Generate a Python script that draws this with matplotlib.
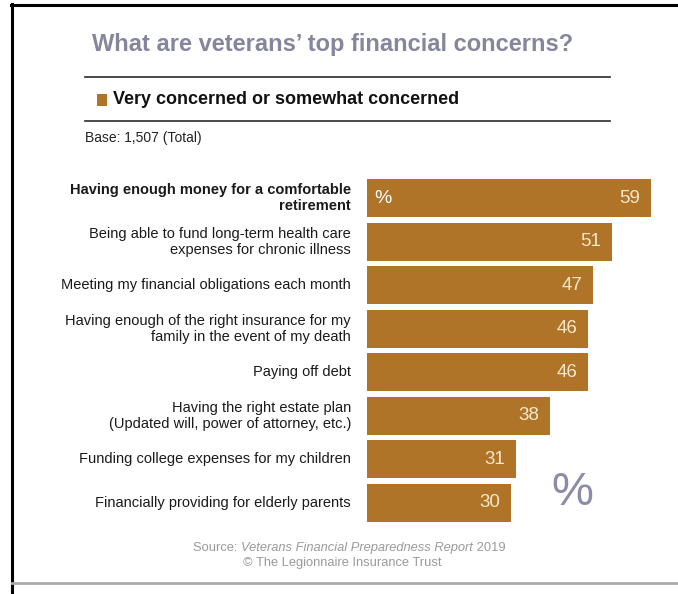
import matplotlib
matplotlib.use("Agg")
import matplotlib.pyplot as plt
from matplotlib.lines import Line2D
from matplotlib.patches import Rectangle

plt.rcParams['font.family'] = ['Liberation Sans', 'DejaVu Sans']

categories = [
    "Having enough money for a comfortable\nretirement",
    "Being able to fund long-term health care\nexpenses for chronic illness",
    "Meeting my financial obligations each month",
    "Having enough of the right insurance for my\nfamily in the event of my death",
    "Paying off debt",
    "Having the right estate plan\n(Updated will, power of attorney, etc.)",
    "Funding college expenses for my children",
    "Financially providing for elderly parents",
]
values = [59, 51, 47, 46, 46, 38, 31, 30]
title = "What are veterans\u2019 top financial concerns?"
legend_label = "Very concerned or somewhat concerned"
base_note = "Base: 1,507 (Total)"

W, H = 678, 594
BAR = "#B07428"
fig = plt.figure(figsize=(W / 100, H / 100), dpi=100)
fig.patch.set_facecolor("white")

def fx(px):
    return px / W

def fy(py):
    return 1 - py / H

# frame lines
fig.add_artist(Line2D([fx(11.5), fx(11.5)], [fy(4), fy(594)], color="black", lw=2.2, transform=fig.transFigure))
fig.add_artist(Line2D([fx(11), fx(678)], [fy(4.5), fy(4.5)], color="black", lw=2.2, transform=fig.transFigure))
fig.add_artist(Line2D([fx(12), fx(678)], [fy(583), fy(583)], color="#aaaaaa", lw=2.0, transform=fig.transFigure))

# title
fig.text(fx(92), fy(44), title, fontsize=17, fontweight="bold", color="#85859c", ha="left", va="center")

# header lines
for py in (77, 121):
    fig.add_artist(Line2D([fx(85), fx(610)], [fy(py), fy(py)], color="#2a2a2a", lw=1.2, transform=fig.transFigure))

# legend
fig.add_artist(Rectangle((fx(97), fy(106)), fx(10), 12 / H, facecolor=BAR, edgecolor="none", transform=fig.transFigure))
fig.text(fx(113), fy(100), legend_label, fontsize=13, fontweight="bold", color="#111111", ha="left", va="center")
fig.text(fx(85), fy(138), base_note, fontsize=10, color="#222222", ha="left", va="center")

# bar axes
left_px, scale = 367, 284 / 59
xmax = 60
top_px, pitch = 176.5, 43.5
n = len(values)
ax = fig.add_axes([fx(left_px), fy(top_px + pitch * n), xmax * scale / W, pitch * n / H])
ypos = list(range(n))
ax.barh(ypos, values, height=0.885, color=BAR, edgecolor="none")
ax.set_xlim(0, xmax)
ax.set_ylim(n - 0.5, -0.5)
ax.axis("off")

for i, (v, lab) in enumerate(zip(values, categories)):
    ax.text(v - 2.3, i, str(v), ha="right", va="center", fontsize=13.5, color="#f7e8cc")
    ax.text(-3.3, i, lab, ha="right", va="center", fontsize=10.5,
            fontweight="bold" if i == 0 else "normal", color="#1a1a1a",
            linespacing=1.2, multialignment="right")

ax.text(1.6, 0, "%", ha="left", va="center", fontsize=14, color="white")
ax.text(42.6, 6.78, "%", ha="center", va="center", fontsize=34, color="#8c8ca8")

# source
ys = 548
t1 = fig.text(fx(193), fy(ys), "Source: ", fontsize=9.3, color="#9a9a9a", ha="left", va="center")
t2 = fig.text(0, 0, "Veterans Financial Preparedness Report", fontsize=9.3, style="italic", color="#9a9a9a")
t3 = fig.text(0, 0, " 2019", fontsize=9.3, color="#9a9a9a")
fig.canvas.draw()
r = fig.canvas.get_renderer()
bb = t1.get_window_extent(r)
t2.set_position((bb.x1 / W, fy(ys)))
t2.set_va("center")
bb2 = t2.get_window_extent(r)
t3.set_position((bb2.x1 / W, fy(ys)))
t3.set_va("center")
fig.text(fx(342), fy(563), "\u00a9 The Legionnaire Insurance Trust", fontsize=9.3, color="#9a9a9a", ha="center", va="center")

fig.savefig("out.png", dpi=100, facecolor="white")
